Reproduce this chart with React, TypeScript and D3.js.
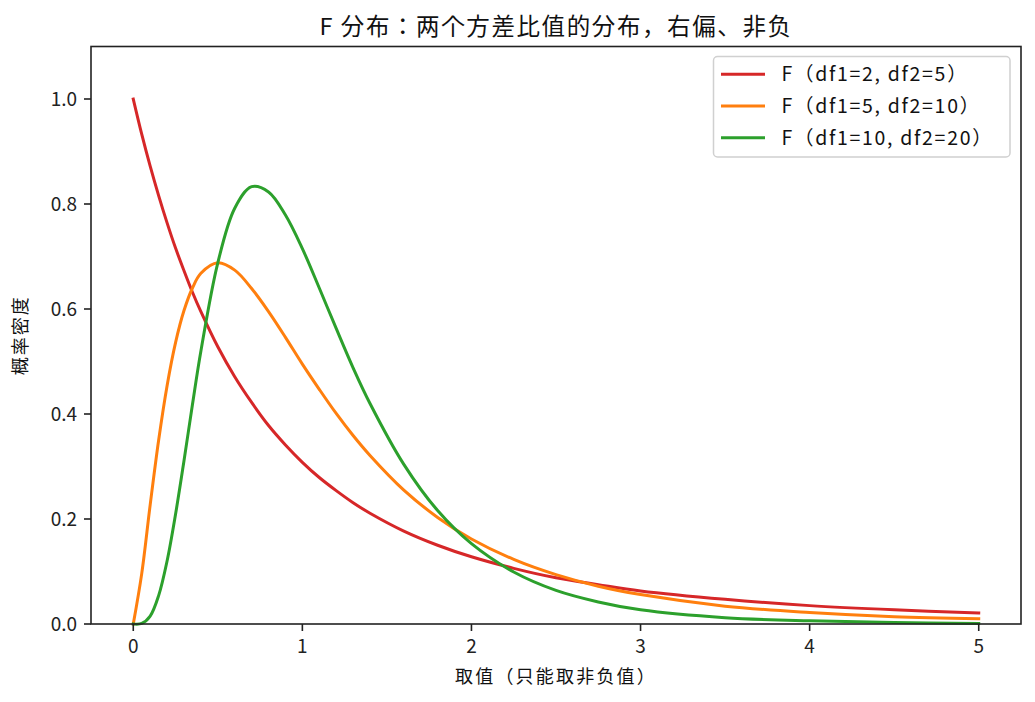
import React from "react";
import * as d3 from "d3";

// values
const xValues = [0, 0.05, 0.1, 0.15, 0.2, 0.25, 0.3, 0.35, 0.4, 0.5, 0.6, 0.7, 0.8, 0.9, 1.0, 1.1, 1.2, 1.3, 1.4, 1.6, 1.8, 2.0, 2.25, 2.5, 2.75, 3.0, 3.5, 4.0, 4.5, 5.0];
const redValues = [1.0, 0.933, 0.872, 0.816, 0.764, 0.716, 0.673, 0.632, 0.595, 0.528, 0.471, 0.422, 0.378, 0.341, 0.308, 0.279, 0.254, 0.231, 0.211, 0.177, 0.150, 0.128, 0.106, 0.088, 0.075, 0.063, 0.047, 0.035, 0.027, 0.021];
const orangeValues = [0, 0.096, 0.227, 0.350, 0.454, 0.536, 0.597, 0.640, 0.668, 0.688, 0.674, 0.639, 0.595, 0.546, 0.495, 0.447, 0.401, 0.359, 0.321, 0.255, 0.203, 0.162, 0.123, 0.094, 0.072, 0.056, 0.034, 0.022, 0.014, 0.010];
const greenValues = [0, 0.001, 0.015, 0.054, 0.120, 0.209, 0.311, 0.418, 0.520, 0.688, 0.792, 0.833, 0.823, 0.779, 0.715, 0.640, 0.563, 0.488, 0.420, 0.304, 0.216, 0.153, 0.099, 0.064, 0.042, 0.027, 0.012, 0.006, 0.003, 0.001];

const seriesNames = ["F（df1=2, df2=5）", "F（df1=5, df2=10）", "F（df1=10, df2=20）"];
const seriesColors = ["#d62728", "#ff7f0e", "#2ca02c"];
const xTicks = [0, 1, 2, 3, 4, 5];
const yTicks = [0, 0.2, 0.4, 0.6, 0.8, 1.0];

const title = "F 分布：两个方差比值的分布，右偏、非负";
const xLabel = "取值（只能取非负值）";
const yLabel = "概率密度";

const width = 1035;
const height = 702;
const margin = {top: 46.5, right: 14, bottom: 78, left: 91};
const font = "'Noto Sans CJK JP', 'Noto Sans CJK SC', sans-serif";

export default function App() {
    const x = d3.scaleLinear().domain([-0.25, 5.25]).range([margin.left, width - margin.right]);
    const y = d3.scaleLinear().domain([0, 1.1]).range([height - margin.bottom, margin.top]);
    const line = d3.line<number>()
        .x((d, i) => x(xValues[i]))
        .y(d => y(d))
        .curve(d3.curveCatmullRom.alpha(0.5));
    const allSeries = [redValues, orangeValues, greenValues];
    const left = margin.left, right = width - margin.right;
    const top = margin.top, bottom = height - margin.bottom;
    const legendX = 713.5, legendY = 56.5;

    return (
        <svg width={width} height={height} style={{position: "absolute", left: 0, top: 0, background: "#fff"}} fontFamily={font}>
            <rect x={0} y={0} width={width} height={height} fill="#fff"/>
            {allSeries.map((s, i) => (
                <path key={i} d={line(s) || ""} fill="none" stroke={seriesColors[i]} strokeWidth={3} strokeLinecap="square"/>
            ))}
            {/* frame */}
            <rect x={left} y={top} width={right - left} height={bottom - top} fill="none" stroke="#222" strokeWidth={1.6}/>
            {xTicks.map(t => (
                <g key={"x" + t} transform={`translate(${x(t)},${bottom})`}>
                    <line y2={7} stroke="#222" strokeWidth={1.6}/>
                    <text y={29} textAnchor="middle" fontSize={19} fill="#222">{t}</text>
                </g>
            ))}
            {yTicks.map(t => (
                <g key={"y" + t} transform={`translate(${left},${y(t)})`}>
                    <line x2={-7} stroke="#222" strokeWidth={1.6}/>
                    <text x={-14} dy="0.35em" textAnchor="end" fontSize={19} fill="#222">{t.toFixed(1)}</text>
                </g>
            ))}
            <text x={(left + right) / 2} y={35} textAnchor="middle" fontSize={23.5} letterSpacing={1.6} fill="#111">{title}</text>
            <text x={(left + right) / 2} y={683} textAnchor="middle" fontSize={18} letterSpacing={2.2} fill="#111">{xLabel}</text>
            <text transform={`translate(21,${(top + bottom) / 2}) rotate(-90)`} textAnchor="middle" dy="0.35em" fontSize={18} letterSpacing={2} fill="#111">{yLabel}</text>
            {/* legend */}
            <rect x={legendX} y={legendY} width={296.5} height={100.5} rx={4} fill="#fff" fillOpacity={0.8} stroke="#d0d0d0" strokeWidth={1.5}/>
            {seriesNames.map((n, i) => (
                <g key={n} transform={`translate(${legendX},${legendY + 17.8 + i * 31.7})`}>
                    <line x1={7.5} x2={51.5} stroke={seriesColors[i]} strokeWidth={3}/>
                    <text x={68} dy="0.35em" fontSize={19.5} letterSpacing={1.7} fill="#111">{n}</text>
                </g>
            ))}
        </svg>
    );
}
